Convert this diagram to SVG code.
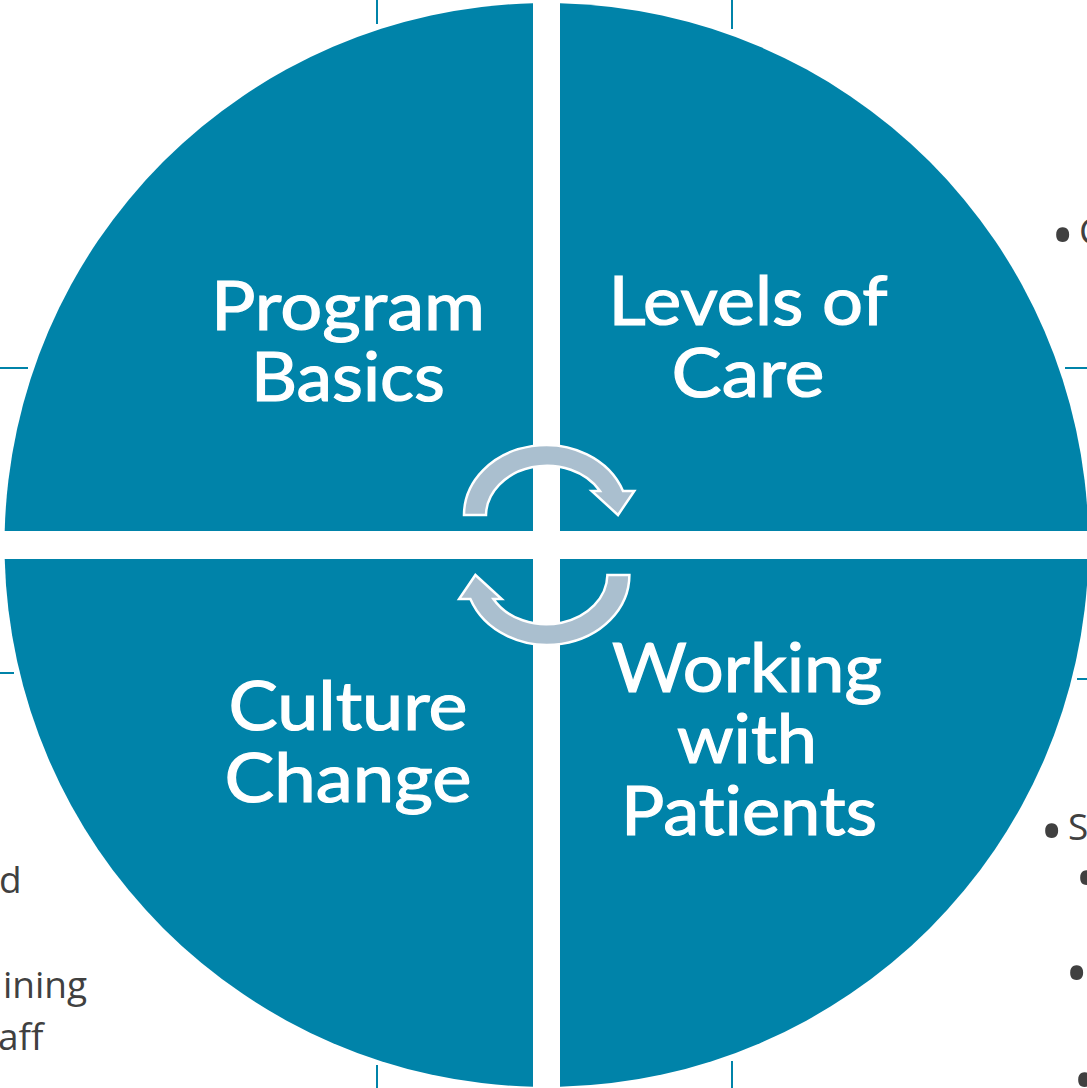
<svg xmlns="http://www.w3.org/2000/svg" width="1087" height="1088" viewBox="0 0 1087 1088">
<style>
.q{fill:#0083A9}
.lbl{font-family:Lato,"Open Sans","Liberation Sans",sans-serif;font-size:67px;fill:#ffffff;stroke:#ffffff;stroke-width:1.2;text-anchor:middle;font-variant-ligatures:none}
.bg{font-family:"Open Sans","Liberation Sans",sans-serif;font-size:37px;fill:#404040}
.bul{font-family:"Open Sans","Liberation Sans",sans-serif;font-size:62px;fill:#404040}
.tick{stroke:#0083A9;stroke-width:2;fill:none}
.arr{fill:#AABFCF;stroke:#ffffff;stroke-width:2.5;stroke-linejoin:miter}
</style>
<rect width="1087" height="1088" fill="#ffffff"/>
<g id="background">
<line class="tick" x1="0" y1="368" x2="28" y2="368"/>
<line class="tick" x1="1065" y1="368" x2="1087" y2="368"/>
<line class="tick" x1="0" y1="673" x2="14" y2="673"/>
<line class="tick" x1="1077" y1="679" x2="1087" y2="679"/>
<line class="tick" x1="377" y1="0" x2="377" y2="24"/>
<line class="tick" x1="732" y1="0" x2="732" y2="29"/>
<line class="tick" x1="377" y1="1065" x2="377" y2="1088"/>
<line class="tick" x1="732" y1="1061" x2="732" y2="1088"/>
<text class="bg" x="-1" y="893">d</text>
<text class="bg" x="3" y="998">ining</text>
<text class="bg" x="-2" y="1050">aff</text>
<text class="bul" x="1051" y="257">•</text>
<text class="bg" x="1079" y="244">C</text>
<text class="bul" x="1040" y="853">•</text>
<text class="bg" x="1068" y="840">S</text>
<text class="bul" x="1075" y="900">•</text>
<text class="bul" x="1065" y="995">•</text>
<text class="bul" x="1073" y="1102">•</text>
</g>
<g id="program-basics">
<path class="q" d="M533,531 L533,3.2 A542,542 0 0 0 4.7,531 Z"/>
<text class="lbl" x="348" y="330" textLength="274" lengthAdjust="spacingAndGlyphs">Program</text>
<text class="lbl" x="348" y="401" textLength="194" lengthAdjust="spacingAndGlyphs">Basics</text>
</g>
<g id="levels-of-care">
<path class="q" d="M560,531 L560,3.2 A542,542 0 0 1 1088.3,531 Z"/>
<text class="lbl" x="748" y="325" textLength="279" lengthAdjust="spacingAndGlyphs">Levels of</text>
<text class="lbl" x="748" y="397" textLength="153" lengthAdjust="spacingAndGlyphs">Care</text>
</g>
<g id="culture-change">
<path class="q" d="M533,559 L4.7,559 A542,542 0 0 0 533,1086.8 Z"/>
<text class="lbl" x="348" y="730" textLength="239" lengthAdjust="spacingAndGlyphs">Culture</text>
<text class="lbl" x="348" y="802" textLength="247" lengthAdjust="spacingAndGlyphs">Change</text>
</g>
<g id="working-with-patients">
<path class="q" d="M560,559 L1088.3,559 A542,542 0 0 1 560,1086.8 Z"/>
<text class="lbl" x="747" y="692" textLength="270" lengthAdjust="spacingAndGlyphs">Working</text>
<text class="lbl" x="747" y="763" textLength="140" lengthAdjust="spacingAndGlyphs">with</text>
<text class="lbl" x="749" y="835" textLength="256" lengthAdjust="spacingAndGlyphs">Patients</text>
</g>
<g id="connectors">
<path id="arrow-top" class="arr" d="M464,515 A82,70 0 0 1 623,491 L634.3,491 L618,515 L591.7,491 L600,491 A61,50 0 0 0 486,515 Z"/>
<path id="arrow-bottom" class="arr" transform="rotate(180 546.7 545)" d="M464,515 A82,70 0 0 1 623,491 L634.3,491 L618,515 L591.7,491 L600,491 A61,50 0 0 0 486,515 Z"/>
</g>
</svg>
